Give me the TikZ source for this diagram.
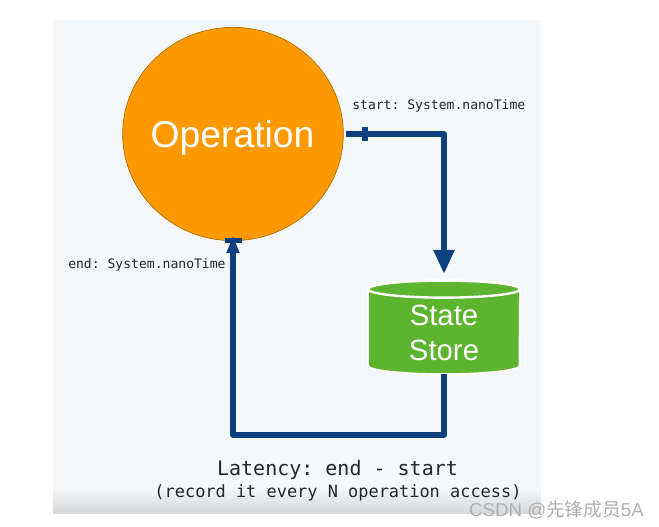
\documentclass[tikz,border=0pt]{standalone}
\usepackage{fontspec}
\setsansfont{Liberation Sans}
\setmonofont{DejaVu Sans Mono}
\newfontfamily\cjkfont{Noto Sans CJK SC}
\usetikzlibrary{arrows.meta,shapes.geometric}
\definecolor{panelbg}{HTML}{F4F8FB}
\definecolor{panelend}{HTML}{D6D8DA}
\definecolor{oporange}{HTML}{FF9900}
\definecolor{storegreen}{HTML}{5DB52F}
\definecolor{flowblue}{HTML}{0E3F7E}
\definecolor{marktext}{HTML}{B0B0B0}

\begin{document}
\begin{tikzpicture}[x=.75pt,y=-.75pt,
    bigtext/.style={white,font=\sffamily\fontsize{28}{32}\selectfont},
    op/.style={ellipse,draw=oporange!70!black,line width=.5pt,fill=oporange,
      minimum width=165.5pt,minimum height=160pt,inner sep=0pt},
    store/.style={minimum width=114pt,minimum height=70pt,inner sep=0pt},
    storebody/.style={fill=storegreen,draw=white,line width=1.8pt},
    storetext/.style={white,align=center,font=\sffamily\fontsize{22}{25}\selectfont},
    flow/.style={flowblue,line width=4.2pt,line join=round},
    tickmark/.style={fill=flowblue,inner sep=0pt},
    codetext/.style={text=black!85,inner sep=0pt,font=\ttfamily\fontsize{9.8}{12}\selectfont},]
  \useasboundingbox (0,0) rectangle (659,527);
  \fill[panelbg] (53,20) rectangle (541,488);
  \fill[top color=panelbg,bottom color=panelend] (53,488) rectangle (541,513);

  \node[op] (oper) at (233,134) {};
  \node[bigtext] (opertext) at (232.5,138) {Operation};
  \node[store] (db) at (444,327.5) {};
  \draw[storebody] ([yshift=-6.4pt]db.north west) -- ([yshift=6.4pt]db.south west)
    arc[start angle=180,end angle=360,x radius=57pt,y radius=6.4pt]
    -- ([yshift=-6.4pt]db.north east)
    arc[start angle=0,end angle=180,x radius=57pt,y radius=6.4pt] -- cycle;
  \draw[storebody] ([yshift=-6.4pt]db.north) ellipse[x radius=57pt,y radius=6.4pt];
  \node[storetext] (dbtext) at (444,333) {State\\[1pt]Store};

  \coordinate (turn) at (233,435);
  \draw[flow,shorten <=2pt,-{Triangle[length=18pt,width=15pt]}] (oper.east) -| ([yshift=5pt]db.north);
  \draw[flow,shorten >=-4pt,-{Triangle[length=13pt,width=9pt]}] (db.south) |- (turn) -- (oper.south);
  \node[tickmark,minimum width=4.5pt,minimum height=11pt] (tickstart) at (365,134) {};
  \node[tickmark,minimum width=12.5pt,minimum height=3.5pt] (tickend) at (233.5,240.5) {};

  \node[codetext,anchor=west] (startlbl) at (352,106) {start: System.nanoTime};
  \node[codetext,anchor=west] (endlbl) at (68,265) {end: System.nanoTime};
  \node[text=black!85,inner sep=0pt,font=\ttfamily\fontsize{15}{18}\selectfont] (latency) at (337.5,470) {Latency: end - start};
  \node[text=black!85,inner sep=0pt,font=\ttfamily\fontsize{12.7}{15}\selectfont] (every) at (338,493) {(record it every N operation access)};
  \node[text=marktext,anchor=east,inner sep=0pt,font=\sffamily\fontsize{14}{16}\selectfont] (mark) at (644,510) {CSDN @{\cjkfont 先锋成员}5A};
\end{tikzpicture}
\end{document}
